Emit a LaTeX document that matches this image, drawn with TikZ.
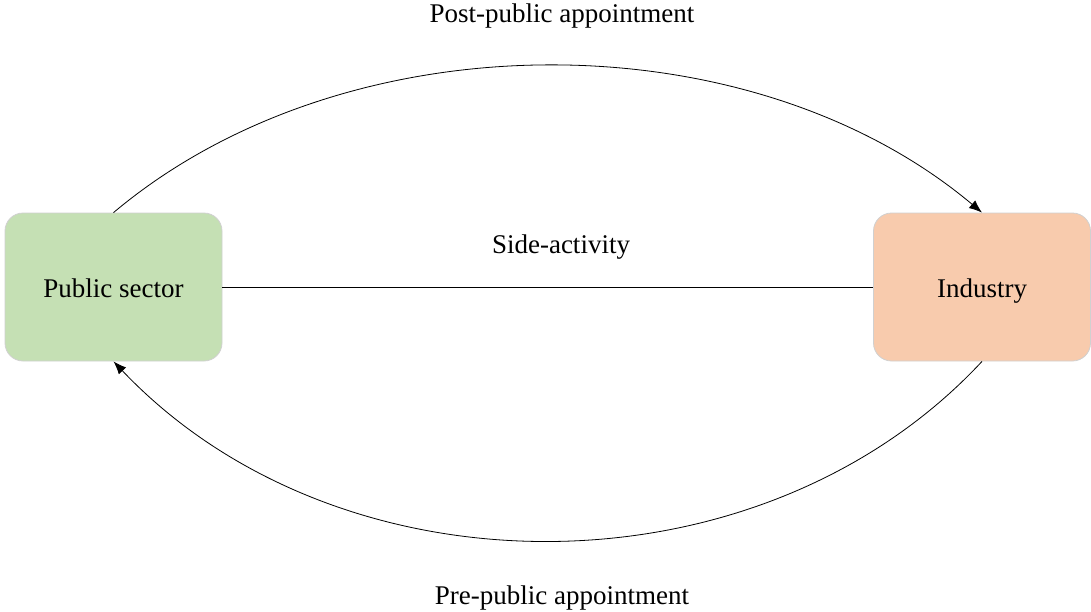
\documentclass[tikz,border=0pt]{standalone}
\usepackage{fontspec}
\setmainfont{Liberation Serif}
\usepackage{tikz}
\usetikzlibrary{arrows.meta}

\definecolor{greenbox}{HTML}{C5E0B4}
\definecolor{orangebox}{HTML}{F8CBAD}
\definecolor{boxline}{HTML}{D0D0D0}

\begin{document}
\begin{tikzpicture}[font=\fontsize{13.5}{16}\selectfont,>={Latex[length=6.5pt,width=5pt]},x=0.5pt,y=-0.5pt]
    \tikzset{
        sector/.style={
            draw=boxline,rounded corners=9pt,text height=10.5pt,text depth=0pt,
            minimum width=108.5pt,minimum height=74pt,align=center
        },
        flow/.style={->,thin},
        lbl/.style={align=center,inner sep=0pt}
    }
    \useasboundingbox (0,0) rectangle (1091,611);

    \node[sector,fill=greenbox] (public) at (113.5,287) {Public sector};
    \node[sector,fill=orangebox] (industry) at (982,287) {Industry};

    \draw[flow] (public.north) .. controls (346,17) and (749,17) .. (industry.north);
    \draw[flow] (industry.south) .. controls (760,600) and (340,600) .. (public.south);
    \draw[thin] (public.east) -- (industry.west);

    \node[lbl] (post) at (562,16) {Post-public appointment};
    \node[lbl] (side) at (561,247) {Side-activity};
    \node[lbl] (pre) at (562,598) {Pre-public appointment};
\end{tikzpicture}
\end{document}
